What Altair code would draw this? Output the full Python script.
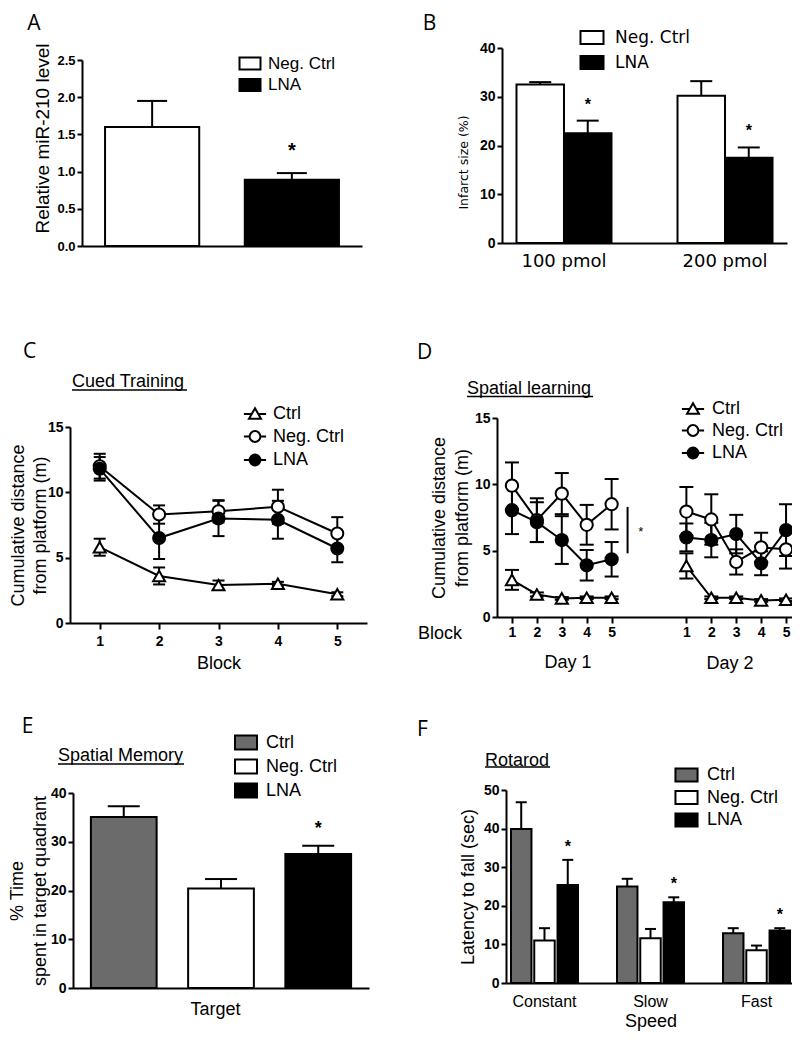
import altair as alt
import pandas as pd

W, H = 784, 1024
SANS = "Liberation Sans"
WIDE = "DejaVu Sans"
LETTER = "Open Sans"

# ---------------- data ----------------
# A
a_groups = ["Neg. Ctrl", "LNA"]
a_mean = [1.60, 0.89]
a_sem = [0.35, 0.09]
a_star = ["", "*"]

# B
b_doses = ["100 pmol", "200 pmol"]
b_groups = ["Neg. Ctrl", "LNA"]
b_neg_mean = [32.5, 30.2]
b_neg_sem = [0.5, 3.0]
b_lna_mean = [22.5, 17.5]
b_lna_sem = [2.6, 2.1]

# C
groups3 = ["Ctrl", "Neg. Ctrl", "LNA"]
blocks = [1, 2, 3, 4, 5]
c_ctrl_mean = [5.8, 3.6, 2.9, 3.0, 2.2]
c_ctrl_sem = [0.65, 0.65, 0.35, 0.15, 0.15]
c_neg_mean = [12.0, 8.3, 8.55, 8.9, 6.85]
c_neg_sem = [0.95, 0.7, 0.85, 1.3, 1.25]
c_lna_mean = [11.8, 6.5, 8.0, 7.9, 5.7]
c_lna_sem = [0.9, 1.6, 1.35, 1.45, 1.05]

# D  (day 1, day 2)
days = [1, 2]
d_ctrl_mean = [[2.8, 1.7, 1.4, 1.45, 1.45], [3.85, 1.45, 1.45, 1.25, 1.3]]
d_ctrl_sem = [[0.75, 0.15, 0.1, 0.1, 0.1], [0.95, 0.1, 0.1, 0.1, 0.1]]
d_neg_mean = [[9.9, 7.3, 9.3, 6.95, 8.5], [7.95, 7.35, 4.15, 5.25, 5.1]]
d_neg_sem = [[1.75, 1.65, 1.55, 1.5, 1.9], [1.85, 1.9, 0.95, 1.1, 1.45]]
d_lna_mean = [[8.05, 7.15, 5.8, 3.9, 4.35], [6.0, 5.8, 6.25, 4.05, 6.55]]
d_lna_sem = [[1.8, 1.5, 1.8, 1.15, 1.3], [1.05, 1.3, 1.45, 0.9, 1.95]]

# E
e_mean = [35.1, 20.4, 27.5]
e_sem = [2.2, 1.95, 1.7]
e_star = ["", "", "*"]

# F
f_speeds = ["Constant", "Slow", "Fast"]
f_ctrl_mean = [39.9, 25.0, 12.9]
f_ctrl_sem = [6.9, 2.0, 1.3]
f_neg_mean = [11.0, 11.6, 8.5]
f_neg_sem = [3.2, 2.4, 1.2]
f_lna_mean = [25.4, 20.9, 13.6]
f_lna_sem = [6.5, 1.3, 0.6]

# ---------------- tables ----------------
df_a = pd.DataFrame({"group": a_groups, "mean": a_mean, "sem": a_sem, "star": a_star})
df_a["hi"] = df_a["mean"] + df_a["sem"]

rows = []
for g, m, s in [("Neg. Ctrl", b_neg_mean, b_neg_sem), ("LNA", b_lna_mean, b_lna_sem)]:
    for dose, mi, si in zip(b_doses, m, s):
        rows.append({"dose": dose, "group": g, "mean": mi, "sem": si, "star": "*" if g == "LNA" else ""})
df_b = pd.DataFrame(rows)
df_b["hi"] = df_b["mean"] + df_b["sem"]

rows = []
for g, m, s in [("Ctrl", c_ctrl_mean, c_ctrl_sem), ("Neg. Ctrl", c_neg_mean, c_neg_sem), ("LNA", c_lna_mean, c_lna_sem)]:
    for b, mi, si in zip(blocks, m, s):
        rows.append({"group": g, "block": b, "mean": mi, "sem": si})
df_c = pd.DataFrame(rows)
df_c["hi"] = df_c["mean"] + df_c["sem"]
df_c["lo"] = df_c["mean"] - df_c["sem"]

rows = []
for g, m, s in [("Ctrl", d_ctrl_mean, d_ctrl_sem), ("Neg. Ctrl", d_neg_mean, d_neg_sem), ("LNA", d_lna_mean, d_lna_sem)]:
    for day, md, sd in zip(days, m, s):
        for b, mi, si in zip(blocks, md, sd):
            rows.append({"group": g, "day": day, "block": b, "mean": mi, "sem": si})
df_d = pd.DataFrame(rows)
df_d["hi"] = df_d["mean"] + df_d["sem"]
df_d["lo"] = df_d["mean"] - df_d["sem"]

df_e = pd.DataFrame({"group": groups3, "mean": e_mean, "sem": e_sem, "star": e_star})
df_e["hi"] = df_e["mean"] + df_e["sem"]

rows = []
for g, m, s in [("Ctrl", f_ctrl_mean, f_ctrl_sem), ("Neg. Ctrl", f_neg_mean, f_neg_sem), ("LNA", f_lna_mean, f_lna_sem)]:
    for sp, mi, si in zip(f_speeds, m, s):
        rows.append({"speed": sp, "group": g, "mean": mi, "sem": si, "star": "*" if g == "LNA" else ""})
df_f = pd.DataFrame(rows)
df_f["hi"] = df_f["mean"] + df_f["sem"]

# ---------------- helpers ----------------
def yax(x_px, values, title, tx, ty=None, fmt="d", tfont=SANS, tsize=18, lsize=14, lh=23):
    kw = dict(orient="left", offset=-x_px, values=values, format=fmt, title=title,
              titleX=tx, titleBaseline="middle", titleFont=tfont, titleFontSize=tsize,
              titleLineHeight=lh, labelFontSize=lsize, tickSize=5, labelPadding=2)
    if ty is not None:
        kw["titleY"] = ty
    return alt.Axis(**kw)


def box_legend(x, y, sym, size, row_pad, label_off, font=SANS, fsize=18):
    return alt.Legend(orient="none", legendX=x, legendY=y, symbolType=sym, symbolSize=size,
                      symbolStrokeColor="black", symbolStrokeWidth=2, labelFont=font,
                      labelFontSize=fsize, labelColor="black", rowPadding=row_pad,
                      labelOffset=label_off, padding=0)


def note(text, x, y, size=18, font=SANS, align="left", weight="normal"):
    return alt.Chart(pd.DataFrame({"t": [text]})).mark_text(
        font=font, fontSize=size, fontWeight=weight, align=align, baseline="middle", color="black"
    ).encode(text="t:N", x=alt.value(x), y=alt.value(y))


def underline(x1, x2, y):
    return alt.Chart(pd.DataFrame({"k": [0]})).mark_rule(color="black", strokeWidth=1.3).encode(
        x=alt.value(x1), x2=alt.value(x2), y=alt.value(y))


RECT_A = "M-1.75,-1H1.75V1H-1.75Z"
RECT_B = "M-1.77,-1H1.77V1H-1.77Z"
RECT_E = "M-1.57,-1H1.57V1H-1.57Z"
RECT_F = "M-1.7,-1H1.7V1H-1.7Z"
TRI_LEG = "M-1.85,0H-0.54M0.54,0H1.85M0,-0.95L1,0.8L-1,0.8Z"
CIRC_LEG = "M-1.85,0H-0.9M0.9,0H1.85M-0.9,0A0.9,0.9,0,1,0,0.9,0A0.9,0.9,0,1,0,-0.9,0Z"
GRAY = "#6b6b6b"

# ---------------- panel A ----------------
xA = alt.X("group:N", title=None,
           scale=alt.Scale(domain=a_groups, range=[74, 354], paddingInner=0.326, paddingOuter=0.165),
           axis=alt.Axis(orient="bottom", offset=238 - H, labels=False, ticks=False, tickSize=0))
sA = alt.Scale(domain=[0, 2.5], range=[238, 52], nice=False, zero=True)
axA = yax(74, [0, 0.5, 1, 1.5, 2, 2.5], "Relative miR-210 level", -40, 130, fmt=".1f", tsize=19, lsize=13)


def yA(f):
    return alt.Y(f"{f}:Q", scale=sA, axis=axA)


bA = alt.Chart(df_a)
panelA = alt.layer(
    bA.mark_rule(color="black", strokeWidth=2).encode(x=xA, y=yA("mean"), y2="hi:Q"),
    bA.mark_tick(color="black", thickness=2, size=30, orient="horizontal", opacity=1).encode(x=xA, y=yA("hi")),
    bA.mark_bar(stroke="black", strokeWidth=2, opacity=1).encode(
        x=xA, y=yA("mean"),
        fill=alt.Fill("group:N", title=None, scale=alt.Scale(domain=a_groups, range=["white", "black"]),
                      legend=box_legend(233.5, 47, RECT_A, 144, 0.5, 9.5, fsize=17))),
    bA.mark_text(dy=-22, fontSize=20, fontWeight="bold", font=SANS, color="black").encode(
        x=xA, y=yA("hi"), text="star:N"),
)

# ---------------- panel B ----------------
xB = alt.X("dose:N", title=None,
           scale=alt.Scale(domain=b_doses, range=[494, 779], paddingInner=0.41, paddingOuter=0.09),
           axis=alt.Axis(orient="bottom", offset=235 - H, ticks=False, tickSize=0, labelFont=WIDE,
                         labelFontSize=18, labelFontWeight="normal", labelPadding=9, labelAngle=0))
oB = alt.XOffset("group:N", scale=alt.Scale(domain=b_groups, paddingInner=0, paddingOuter=0))
sB = alt.Scale(domain=[0, 40], range=[235, 40], nice=False, zero=True)
axB = yax(494, [0, 10, 20, 30, 40], "Infarct size (%)", -39, 154, tfont=WIDE, tsize=12.5)


def yB(f):
    return alt.Y(f"{f}:Q", scale=sB, axis=axB)


bB = alt.Chart(df_b)
panelB = alt.layer(
    bB.mark_rule(color="black", strokeWidth=2).encode(x=xB, xOffset=oB, y=yB("mean"), y2="hi:Q"),
    bB.mark_tick(color="black", thickness=2, size=22, orient="horizontal", opacity=1).encode(
        x=xB, xOffset=oB, y=yB("hi")),
    bB.mark_bar(stroke="black", strokeWidth=2, opacity=1).encode(
        x=xB, xOffset=oB, y=yB("mean"),
        fill=alt.Fill("group:N", title=None, scale=alt.Scale(domain=b_groups, range=["white", "black"]),
                      legend=box_legend(575.5, 21, RECT_B, 169, 4, 14.5, font=WIDE, fsize=17))),
    bB.mark_text(dy=-16, fontSize=16, fontWeight="bold", font=SANS, color="black").encode(
        x=xB, xOffset=oB, y=yB("hi"), text="star:N"),
)


# ---------------- line-panel helpers ----------------
def point_layers(base, x, yf, cap, size):
    return [
        base.mark_rule(color="black", strokeWidth=2).encode(x=x, y=yf("lo"), y2="hi:Q"),
        base.mark_tick(color="black", thickness=2, size=cap, orient="horizontal", opacity=1).encode(x=x, y=yf("lo")),
        base.mark_tick(color="black", thickness=2, size=cap, orient="horizontal", opacity=1).encode(x=x, y=yf("hi")),
        base.mark_point(filled=True, opacity=1, size=size, stroke="black", strokeWidth=2).encode(
            x=x, y=yf("mean"),
            shape=alt.Shape("group:N", title=None,
                            scale=alt.Scale(domain=groups3, range=["triangle-up", "circle", "circle"]), legend=None),
            fill=alt.Fill("group:N", title=None,
                          scale=alt.Scale(domain=groups3, range=["white", "white", "black"]), legend=None)),
    ]


def line_legend(df, lx, ly, row_pad, label_off):
    leg = alt.Legend(orient="none", legendX=lx, legendY=ly, symbolSize=144, symbolStrokeColor="black",
                     symbolStrokeWidth=2, labelFont=SANS, labelFontSize=18, labelColor="black",
                     rowPadding=row_pad, labelOffset=label_off, padding=0)
    return alt.Chart(df).transform_filter("false").mark_point(
        filled=True, opacity=1, strokeWidth=2).encode(
        shape=alt.Shape("group:N", title=None,
                        scale=alt.Scale(domain=groups3, range=[TRI_LEG, CIRC_LEG, CIRC_LEG]), legend=leg),
        fill=alt.Fill("group:N", title=None,
                      scale=alt.Scale(domain=groups3, range=["white", "white", "black"]), legend=leg),
        stroke=alt.Stroke("group:N", title=None,
                          scale=alt.Scale(domain=groups3, range=["black", "black", "black"]), legend=leg))


# ---------------- panel C ----------------
xC = alt.X("block:Q", scale=alt.Scale(domain=[0.5, 5.5], range=[62, 359], nice=False, zero=False),
           axis=alt.Axis(orient="bottom", offset=615 - H, values=blocks, format="d", tickSize=6,
                         labelFontSize=14, labelPadding=5, labelFlush=False, title="Block",
                         titleY=40, titleBaseline="middle", titleFontSize=18))
sC = alt.Scale(domain=[0, 15], range=[615, 419], nice=False, zero=True)
axC = yax(62, [0, 5, 10, 15], ["Cumulative distance", "from platform  (m)"], -52, lh=22)


def yC(f):
    return alt.Y(f"{f}:Q", scale=sC, axis=axC)


bC = alt.Chart(df_c)
panelC = alt.layer(
    bC.mark_line(color="black", strokeWidth=2).encode(x=xC, y=yC("mean"), detail="group:N"),
    *point_layers(bC, xC, yC, 12, 144),
    line_legend(df_c, 238, 397, 3.5, 9),
).resolve_scale(shape="independent", fill="independent", stroke="independent")

# ---------------- panel D ----------------
sDx = alt.Scale(domain=[0.4, 12.6], range=[489, 793], nice=False, zero=False)
axDx = alt.Axis(orient="bottom", offset=609 - H, values=[1, 2, 3, 4, 5, 8, 9, 10, 11, 12],
                labelExpr="datum.value > 6 ? datum.value - 7 : datum.value", tickSize=6,
                labelFontSize=14, labelPadding=2.5, labelFlush=False, title="Block",
                titleX=431.5, titleY=16, titleBaseline="middle", titleFontSize=18)
xD = alt.X("pos:Q", scale=sDx, axis=axDx)
sD = alt.Scale(domain=[0, 15], range=[609, 410], nice=False, zero=True)
axD = yax(489, [0, 5, 10, 15], ["Cumulative distance", "from platform  (m)"], -58)


def yD(f):
    return alt.Y(f"{f}:Q", scale=sD, axis=axD)


bD = alt.Chart(df_d).transform_calculate(pos="datum.block + (datum.day - 1) * 7")
one = alt.Chart(pd.DataFrame({"k": [0]}))
panelD = alt.layer(
    bD.mark_line(color="black", strokeWidth=2).encode(x=xD, y=yD("mean"), detail=["group:N", "day:N"]),
    *point_layers(bD, xD, yD, 14, 150),
    one.mark_rule(color="black", strokeWidth=2).encode(
        x=alt.X(datum=5.64, type="quantitative", scale=sDx, axis=axDx),
        y=alt.Y(datum=8.3, type="quantitative", scale=sD, axis=axD), y2=alt.Y2(datum=4.8)),
    one.mark_text(text="*", fontSize=13, font=SANS, color="black", baseline="middle").encode(
        x=alt.X(datum=6.17, type="quantitative", scale=sDx, axis=axDx),
        y=alt.Y(datum=6.4, type="quantitative", scale=sD, axis=axD)),
    line_legend(df_d, 676, 392, 2.5, 10),
).resolve_scale(shape="independent", fill="independent", stroke="independent")

# ---------------- panel E ----------------
xE = alt.X("group:N", title="Target",
           scale=alt.Scale(domain=groups3, range=[65, 361], paddingInner=0.324, paddingOuter=0.184),
           axis=alt.Axis(orient="bottom", offset=980 - H, labels=False, ticks=False, tickSize=0,
                         titleX=207, titleY=21, titleBaseline="middle", titleFontSize=18))
sE = alt.Scale(domain=[0, 40], range=[980, 785], nice=False, zero=True)
axE = yax(65, [0, 10, 20, 30, 40], ["% Time", "spent in target quadrant"], -56)


def yE(f):
    return alt.Y(f"{f}:Q", scale=sE, axis=axE)


bE = alt.Chart(df_e)
panelE = alt.layer(
    bE.mark_rule(color="black", strokeWidth=2).encode(x=xE, y=yE("mean"), y2="hi:Q"),
    bE.mark_tick(color="black", thickness=2, size=32, orient="horizontal", opacity=1).encode(x=xE, y=yE("hi")),
    bE.mark_bar(stroke="black", strokeWidth=2, opacity=1).encode(
        x=xE, y=yE("mean"),
        fill=alt.Fill("group:N", title=None, scale=alt.Scale(domain=groups3, range=[GRAY, "white", "black"]),
                      legend=box_legend(229, 725.5, RECT_E, 196, 2, 11))),
    bE.mark_text(dy=-17, fontSize=18, fontWeight="bold", font=SANS, color="black").encode(
        x=xE, y=yE("hi"), text="star:N"),
)

# ---------------- panel F ----------------
xF = alt.X("speed:N", title="Speed",
           scale=alt.Scale(domain=f_speeds, range=[498, 787], paddingInner=0.368, paddingOuter=0.047),
           axis=alt.Axis(orient="bottom", offset=975 - H, ticks=False, tickSize=0, labelFontSize=16,
                         labelFontWeight="normal", labelPadding=10, labelAngle=0, titleY=38,
                         titleBaseline="middle", titleFontSize=18))
oF = alt.XOffset("group:N", scale=alt.Scale(domain=groups3, paddingInner=0.12, paddingOuter=0))
sF = alt.Scale(domain=[0, 50], range=[975, 782], nice=False, zero=True)
axF = yax(498, [0, 10, 20, 30, 40, 50], "Latency to fall (sec)", -38)


def yF(f):
    return alt.Y(f"{f}:Q", scale=sF, axis=axF)


bF = alt.Chart(df_f)
panelF = alt.layer(
    bF.mark_rule(color="black", strokeWidth=2).encode(x=xF, xOffset=oF, y=yF("mean"), y2="hi:Q"),
    bF.mark_tick(color="black", thickness=2, size=11, orient="horizontal", opacity=1).encode(
        x=xF, xOffset=oF, y=yF("hi")),
    bF.mark_bar(stroke="black", strokeWidth=2, opacity=1).encode(
        x=xF, xOffset=oF, y=yF("mean"),
        fill=alt.Fill("group:N", title=None, scale=alt.Scale(domain=groups3, range=[GRAY, "white", "black"]),
                      legend=box_legend(669.5, 758, RECT_F, 169, 0.5, 11.5))),
    bF.mark_text(dy=-13, fontSize=16, fontWeight="bold", font=SANS, color="black").encode(
        x=xF, xOffset=oF, y=yF("hi"), text="star:N"),
)

# ---------------- annotations ----------------
notes = [
    note("A", 26, 15.5, size=21, font=LETTER, align="center"),
    note("B", 421.5, 15.5, size=21, font=LETTER, align="center"),
    note("C", 21.5, 343.5, size=21, font=LETTER, align="center"),
    note("D", 416.5, 344.5, size=21, font=LETTER, align="center"),
    note("E", 19.5, 718.5, size=21, font=LETTER, align="center"),
    note("F", 414.5, 721.5, size=21, font=LETTER, align="center"),
    note("Cued Training", 64, 374),
    underline(64, 179, 382),
    note("Spatial learning", 459, 381),
    underline(459, 585, 388.5),
    note("Spatial Memory", 50, 748),
    underline(50, 176, 756),
    note("Rotarod", 477, 752.5),
    underline(477, 542, 759),
    note("Day 1", 560, 655, align="center"),
    note("Day 2", 722, 656, align="center"),
]

chart = alt.layer(panelA, panelB, panelC, panelD, panelE, panelF, *notes).resolve_scale(
    x="independent", y="independent", fill="independent", shape="independent",
    stroke="independent", xOffset="independent"
).resolve_axis(x="independent", y="independent").resolve_legend(
    fill="independent", shape="independent", stroke="independent"
).properties(
    width=W, height=H, padding=0, autosize=alt.AutoSizeParams(type="none"), background="white"
).configure_view(stroke=None).configure_axis(
    domainColor="black", domainWidth=2, tickColor="black", tickWidth=2, labelColor="black",
    titleColor="black", labelFont=SANS, titleFont=SANS, titleFontWeight="normal", titleFontSize=18,
    labelFontWeight="bold", grid=False
)

chart.save("out.html", embed_options={"renderer": "svg", "actions": False})
